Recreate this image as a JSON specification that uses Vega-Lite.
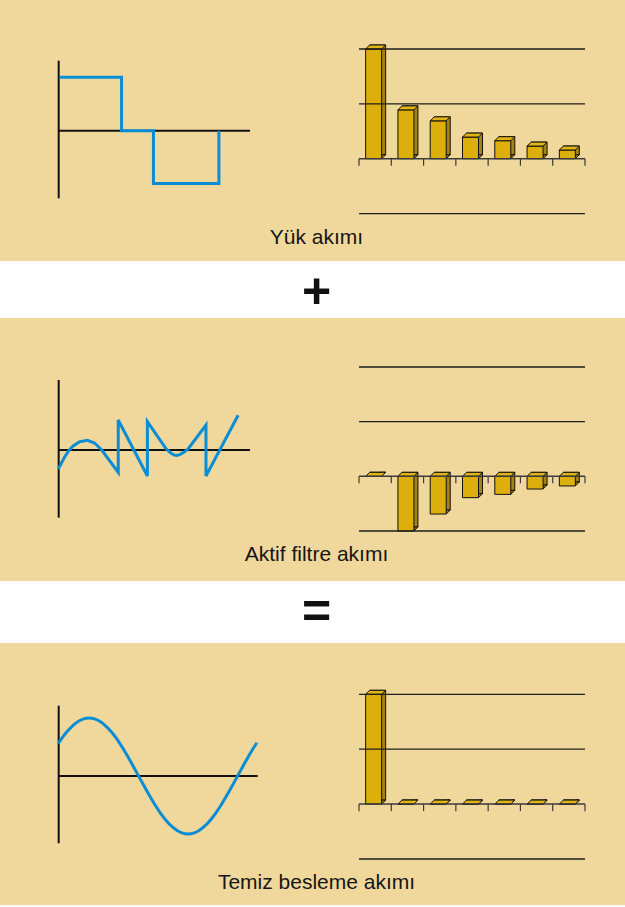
{
  "$schema": "https://vega.github.io/schema/vega-lite/v6.json",
  "background": "white",
  "padding": 0,
  "spacing": 0,
  "bounds": "flush",
  "config": {
    "view": {"stroke": null},
    "axis": {"disable": true},
    "legend": {"disable": true},
    "font": "Liberation Sans",
    "scale": {"zero": false}
  },
  "datasets": {
    "yuk_dalga": [
      {"t": 36, "i": 0.92}, {"t": 149, "i": 0.92}, {"t": 149, "i": 0},
      {"t": 207, "i": 0}, {"t": 207, "i": -0.91}, {"t": 326, "i": -0.91},
      {"t": 326, "i": 0}
    ],
    "filtre_dalga": [
      {"t": 34, "i": -0.33}, {"t": 45, "i": -0.13}, {"t": 53, "i": -0.01},
      {"t": 61, "i": 0.07}, {"t": 72, "i": 0.14}, {"t": 87, "i": 0.167},
      {"t": 100, "i": 0.12}, {"t": 113, "i": 0.0}, {"t": 143, "i": -0.385},
      {"t": 143, "i": 0.517}, {"t": 196, "i": -0.448}, {"t": 196, "i": 0.488},
      {"t": 230, "i": 0.02}, {"t": 238, "i": -0.05}, {"t": 244, "i": -0.085},
      {"t": 249, "i": -0.095}, {"t": 255, "i": -0.08}, {"t": 262, "i": -0.04},
      {"t": 270, "i": 0.02}, {"t": 302.5, "i": 0.43}, {"t": 302.5, "i": -0.448},
      {"t": 361, "i": 0.6}
    ],
    "temiz_dalga": [
      {"t": 34, "i": 0.559}, {"t": 40, "i": 0.643}, {"t": 50, "i": 0.766},
      {"t": 60, "i": 0.866}, {"t": 70, "i": 0.94}, {"t": 80, "i": 0.985},
      {"t": 90, "i": 1.0}, {"t": 100, "i": 0.985}, {"t": 110, "i": 0.94},
      {"t": 120, "i": 0.866}, {"t": 130, "i": 0.766}, {"t": 140, "i": 0.643},
      {"t": 150, "i": 0.5}, {"t": 160, "i": 0.342}, {"t": 170, "i": 0.174},
      {"t": 180, "i": 0}, {"t": 190, "i": -0.174}, {"t": 200, "i": -0.342},
      {"t": 210, "i": -0.5}, {"t": 220, "i": -0.643}, {"t": 230, "i": -0.766},
      {"t": 240, "i": -0.866}, {"t": 250, "i": -0.94}, {"t": 260, "i": -0.985},
      {"t": 270, "i": -1.0}, {"t": 280, "i": -0.985}, {"t": 290, "i": -0.94},
      {"t": 300, "i": -0.866}, {"t": 310, "i": -0.766}, {"t": 320, "i": -0.643},
      {"t": 330, "i": -0.5}, {"t": 340, "i": -0.342}, {"t": 350, "i": -0.174},
      {"t": 360, "i": 0}, {"t": 370, "i": 0.174}, {"t": 380, "i": 0.342},
      {"t": 390, "i": 0.5}, {"t": 395, "i": 0.574}
    ],
    "yuk_harmonik": [
      {"k": 1, "v": 100}, {"k": 2, "v": 44.5}, {"k": 3, "v": 34.5},
      {"k": 4, "v": 19.7}, {"k": 5, "v": 16.4}, {"k": 6, "v": 11.5},
      {"k": 7, "v": 7.9}
    ],
    "filtre_harmonik": [
      {"k": 1, "v": 0}, {"k": 2, "v": -50}, {"k": 3, "v": -34.5},
      {"k": 4, "v": -19.5}, {"k": 5, "v": -16.5}, {"k": 6, "v": -11.6},
      {"k": 7, "v": -8.8}
    ],
    "temiz_harmonik": [
      {"k": 1, "v": 100}, {"k": 2, "v": 0}, {"k": 3, "v": 0},
      {"k": 4, "v": 0}, {"k": 5, "v": 0}, {"k": 6, "v": 0},
      {"k": 7, "v": 0}
    ],
    "izgara": [{"seviye": 100}, {"seviye": 50}, {"seviye": -50}],
    "kenar": [
      {"k": 0.5}, {"k": 1.5}, {"k": 2.5}, {"k": 3.5},
      {"k": 4.5}, {"k": 5.5}, {"k": 6.5}, {"k": 7.5}
    ]
  },
  "vconcat": [
    {
      "width": 625,
      "height": 221,
      "view": {"fill": "#F0D89D", "stroke": null},
      "layer": [
        {
          "layer": [
            {
              "data": {"values": [{}]},
              "mark": {"type": "rule", "color": "#111111", "strokeWidth": 2},
              "encoding": {
                "x": {"datum": 34.7, "type": "quantitative", "scale": {"domain": [0, 360], "range": [39.6, 237.6], "nice": false}},
                "y": {"datum": 1.207, "type": "quantitative", "scale": {"domain": [-1, 1], "range": [188.7, 72.7], "nice": false}},
                "y2": {"datum": -1.166}
              }
            },
            {
              "data": {"values": [{}]},
              "mark": {"type": "rule", "color": "#111111", "strokeWidth": 2},
              "encoding": {
                "x": {"datum": 34.7, "type": "quantitative"},
                "x2": {"datum": 382.5},
                "y": {"datum": 0, "type": "quantitative"}
              }
            },
            {
              "data": {"name": "yuk_dalga"},
              "mark": {"type": "line", "color": "#0A8DD4", "strokeWidth": 3, "strokeJoin": "miter"},
              "encoding": {
                "x": {"field": "t", "type": "quantitative"},
                "y": {"field": "i", "type": "quantitative"}
              }
            }
          ]
        },
        {
          "data": {"name": "yuk_harmonik"},
          "layer": [
            {
              "mark": {"type": "bar", "width": 16, "xOffset": 2.5, "yOffset": -4, "y2Offset": -4, "fill": "#A3840F", "stroke": "#111111", "strokeWidth": 1},
              "encoding": {
                "x": {"field": "k", "type": "quantitative", "scale": {"domain": [0.5, 7.5], "range": [359, 585], "nice": false, "padding": 0}},
                "y": {"field": "v", "type": "quantitative", "scale": {"domain": [-50, 100], "range": [213.55, 49], "nice": false}}
              }
            },
            {
              "mark": {"type": "point", "shape": "M8,0L12,-4L8,-4Z", "size": 4, "filled": true, "fill": "#A3840F", "stroke": "#111111", "strokeWidth": 1, "opacity": 1, "xOffset": -1.5},
              "encoding": {
                "x": {"field": "k", "type": "quantitative"},
                "y": {"datum": 0, "type": "quantitative"}
              }
            },
            {
              "mark": {"type": "bar", "width": 16, "xOffset": -1.5, "fill": "#DDAF0C", "stroke": "#111111", "strokeWidth": 1},
              "encoding": {
                "x": {"field": "k", "type": "quantitative"},
                "y": {"field": "v", "type": "quantitative"}
              }
            },
            {
              "mark": {"type": "point", "shape": "M-8,0L8,0L12,-4L-4,-4Z", "size": 4, "filled": true, "fill": "#E0B414", "stroke": "#111111", "strokeWidth": 1, "opacity": 1, "xOffset": -1.5},
              "encoding": {
                "x": {"field": "k", "type": "quantitative"},
                "y": {"field": "v", "type": "quantitative"}
              }
            },
            {
              "data": {"name": "izgara"},
              "mark": {"type": "rule", "color": "#1E1E1E", "strokeWidth": 1.3},
              "encoding": {
                "y": {"field": "seviye", "type": "quantitative"},
                "x": {"datum": 0.5, "type": "quantitative"},
                "x2": {"datum": 7.5}
              }
            },
            {
              "data": {"values": [{}]},
              "mark": {"type": "rule", "color": "#3A3A3A", "strokeWidth": 1.5},
              "encoding": {
                "y": {"datum": 0, "type": "quantitative"},
                "x": {"datum": 0.5, "type": "quantitative"},
                "x2": {"datum": 7.5}
              }
            },
            {
              "data": {"name": "kenar"},
              "mark": {"type": "rule", "color": "#3A3A3A", "strokeWidth": 1.2},
              "encoding": {
                "x": {"field": "k", "type": "quantitative"},
                "y": {"datum": 0, "type": "quantitative"},
                "y2": {"datum": -6.4}
              }
            }
          ]
        }
      ],
      "resolve": {"scale": {"x": "independent", "y": "independent"}}
    },
    {
      "width": 625,
      "height": 40,
      "view": {"fill": "#F0D89D", "stroke": null},
      "data": {"values": [{"etiket": "Yük akımı"}]},
      "mark": {"type": "text", "fontSize": 21, "color": "#151515", "baseline": "alphabetic", "align": "center", "dx": 4, "dy": 3},
      "encoding": {"text": {"field": "etiket"}}
    },
    {
      "width": 625,
      "height": 57,
      "data": {"values": [{"isaret": "+"}]},
      "mark": {"type": "text", "fontSize": 50, "fontWeight": "bold", "color": "#111111", "baseline": "alphabetic", "align": "center", "dx": 4, "dy": 18.8},
      "encoding": {"text": {"field": "isaret"}}
    },
    {
      "width": 625,
      "height": 221,
      "view": {"fill": "#F0D89D", "stroke": null},
      "layer": [
        {
          "layer": [
            {
              "data": {"values": [{}]},
              "mark": {"type": "rule", "color": "#111111", "strokeWidth": 2},
              "encoding": {
                "x": {"datum": 34.7, "type": "quantitative", "scale": {"domain": [0, 360], "range": [39.6, 237.6], "nice": false}},
                "y": {"datum": 1.207, "type": "quantitative", "scale": {"domain": [-1, 1], "range": [190, 74], "nice": false}},
                "y2": {"datum": -1.166}
              }
            },
            {
              "data": {"values": [{}]},
              "mark": {"type": "rule", "color": "#111111", "strokeWidth": 2},
              "encoding": {
                "x": {"datum": 34.7, "type": "quantitative"},
                "x2": {"datum": 382.5},
                "y": {"datum": 0, "type": "quantitative"}
              }
            },
            {
              "data": {"name": "filtre_dalga"},
              "mark": {"type": "line", "color": "#0A8DD4", "strokeWidth": 3, "strokeJoin": "miter"},
              "encoding": {
                "x": {"field": "t", "type": "quantitative"},
                "y": {"field": "i", "type": "quantitative"}
              }
            }
          ]
        },
        {
          "data": {"name": "filtre_harmonik"},
          "layer": [
            {
              "mark": {"type": "bar", "width": 16, "xOffset": 2.5, "yOffset": -4, "y2Offset": -4, "fill": "#A3840F", "stroke": "#111111", "strokeWidth": 1},
              "encoding": {
                "x": {"field": "k", "type": "quantitative", "scale": {"domain": [0.5, 7.5], "range": [359, 585], "nice": false, "padding": 0}},
                "y": {"field": "v", "type": "quantitative", "scale": {"domain": [-50, 100], "range": [213, 49], "nice": false}}
              }
            },
            {
              "mark": {"type": "point", "shape": "M8,0L12,-4L8,-4Z", "size": 4, "filled": true, "fill": "#A3840F", "stroke": "#111111", "strokeWidth": 1, "opacity": 1, "xOffset": -1.5},
              "encoding": {
                "x": {"field": "k", "type": "quantitative"},
                "y": {"field": "v", "type": "quantitative"}
              }
            },
            {
              "mark": {"type": "bar", "width": 16, "xOffset": -1.5, "fill": "#DDAF0C", "stroke": "#111111", "strokeWidth": 1},
              "encoding": {
                "x": {"field": "k", "type": "quantitative"},
                "y": {"field": "v", "type": "quantitative"}
              }
            },
            {
              "mark": {"type": "point", "shape": "M-8,0L8,0L12,-4L-4,-4Z", "size": 4, "filled": true, "fill": "#E0B414", "stroke": "#111111", "strokeWidth": 1, "opacity": 1, "xOffset": -1.5},
              "encoding": {
                "x": {"field": "k", "type": "quantitative"},
                "y": {"datum": 0, "type": "quantitative"}
              }
            },
            {
              "data": {"name": "izgara"},
              "mark": {"type": "rule", "color": "#1E1E1E", "strokeWidth": 1.3},
              "encoding": {
                "y": {"field": "seviye", "type": "quantitative"},
                "x": {"datum": 0.5, "type": "quantitative"},
                "x2": {"datum": 7.5}
              }
            },
            {
              "data": {"values": [{}]},
              "mark": {"type": "rule", "color": "#3A3A3A", "strokeWidth": 1.5},
              "encoding": {
                "y": {"datum": 0, "type": "quantitative"},
                "x": {"datum": 0.5, "type": "quantitative"},
                "x2": {"datum": 7.5}
              }
            },
            {
              "data": {"name": "kenar"},
              "mark": {"type": "rule", "color": "#3A3A3A", "strokeWidth": 1.2},
              "encoding": {
                "x": {"field": "k", "type": "quantitative"},
                "y": {"datum": 0, "type": "quantitative"},
                "y2": {"datum": -6.4}
              }
            }
          ]
        }
      ],
      "resolve": {"scale": {"x": "independent", "y": "independent"}}
    },
    {
      "width": 625,
      "height": 42,
      "view": {"fill": "#F0D89D", "stroke": null},
      "data": {"values": [{"etiket": "Aktif filtre akımı"}]},
      "mark": {"type": "text", "fontSize": 21, "color": "#151515", "baseline": "alphabetic", "align": "center", "dx": 4, "dy": 1},
      "encoding": {"text": {"field": "etiket"}}
    },
    {
      "width": 625,
      "height": 62,
      "data": {"values": [{"isaret": "="}]},
      "mark": {"type": "text", "fontSize": 50, "fontWeight": "bold", "color": "#111111", "baseline": "alphabetic", "align": "center", "dx": 4, "dy": 16},
      "encoding": {"text": {"field": "isaret"}}
    },
    {
      "width": 625,
      "height": 221,
      "view": {"fill": "#F0D89D", "stroke": null},
      "layer": [
        {
          "layer": [
            {
              "data": {"values": [{}]},
              "mark": {"type": "rule", "color": "#111111", "strokeWidth": 2},
              "encoding": {
                "x": {"datum": 34.7, "type": "quantitative", "scale": {"domain": [0, 360], "range": [39.6, 237.6], "nice": false}},
                "y": {"datum": 1.212, "type": "quantitative", "scale": {"domain": [-1, 1], "range": [191, 75], "nice": false}},
                "y2": {"datum": -1.16}
              }
            },
            {
              "data": {"values": [{}]},
              "mark": {"type": "rule", "color": "#111111", "strokeWidth": 2},
              "encoding": {
                "x": {"datum": 34.7, "type": "quantitative"},
                "x2": {"datum": 396.5},
                "y": {"datum": 0, "type": "quantitative"}
              }
            },
            {
              "data": {"name": "temiz_dalga"},
              "mark": {"type": "line", "color": "#0A8DD4", "strokeWidth": 3, "interpolate": "monotone"},
              "encoding": {
                "x": {"field": "t", "type": "quantitative"},
                "y": {"field": "i", "type": "quantitative"}
              }
            }
          ]
        },
        {
          "data": {"name": "temiz_harmonik"},
          "layer": [
            {
              "mark": {"type": "bar", "width": 16, "xOffset": 2.5, "yOffset": -4, "y2Offset": -4, "fill": "#A3840F", "stroke": "#111111", "strokeWidth": 1},
              "encoding": {
                "x": {"field": "k", "type": "quantitative", "scale": {"domain": [0.5, 7.5], "range": [359, 585], "nice": false, "padding": 0}},
                "y": {"field": "v", "type": "quantitative", "scale": {"domain": [-50, 100], "range": [216, 51.3], "nice": false}}
              }
            },
            {
              "mark": {"type": "point", "shape": "M8,0L12,-4L8,-4Z", "size": 4, "filled": true, "fill": "#A3840F", "stroke": "#111111", "strokeWidth": 1, "opacity": 1, "xOffset": -1.5},
              "encoding": {
                "x": {"field": "k", "type": "quantitative"},
                "y": {"datum": 0, "type": "quantitative"}
              }
            },
            {
              "mark": {"type": "bar", "width": 16, "xOffset": -1.5, "fill": "#DDAF0C", "stroke": "#111111", "strokeWidth": 1},
              "encoding": {
                "x": {"field": "k", "type": "quantitative"},
                "y": {"field": "v", "type": "quantitative"}
              }
            },
            {
              "mark": {"type": "point", "shape": "M-8,0L8,0L12,-4L-4,-4Z", "size": 4, "filled": true, "fill": "#E0B414", "stroke": "#111111", "strokeWidth": 1, "opacity": 1, "xOffset": -1.5},
              "encoding": {
                "x": {"field": "k", "type": "quantitative"},
                "y": {"field": "v", "type": "quantitative"}
              }
            },
            {
              "data": {"name": "izgara"},
              "mark": {"type": "rule", "color": "#1E1E1E", "strokeWidth": 1.3},
              "encoding": {
                "y": {"field": "seviye", "type": "quantitative"},
                "x": {"datum": 0.5, "type": "quantitative"},
                "x2": {"datum": 7.5}
              }
            },
            {
              "data": {"values": [{}]},
              "mark": {"type": "rule", "color": "#3A3A3A", "strokeWidth": 1.5},
              "encoding": {
                "y": {"datum": 0, "type": "quantitative"},
                "x": {"datum": 0.5, "type": "quantitative"},
                "x2": {"datum": 7.5}
              }
            },
            {
              "data": {"name": "kenar"},
              "mark": {"type": "rule", "color": "#3A3A3A", "strokeWidth": 1.2},
              "encoding": {
                "x": {"field": "k", "type": "quantitative"},
                "y": {"datum": 0, "type": "quantitative"},
                "y2": {"datum": -6.4}
              }
            }
          ]
        }
      ],
      "resolve": {"scale": {"x": "independent", "y": "independent"}}
    },
    {
      "width": 625,
      "height": 41,
      "view": {"fill": "#F0D89D", "stroke": null},
      "data": {"values": [{"etiket": "Temiz besleme akımı"}]},
      "mark": {"type": "text", "fontSize": 21, "color": "#151515", "baseline": "alphabetic", "align": "center", "dx": 4, "dy": 4},
      "encoding": {"text": {"field": "etiket"}}
    }
  ]
}
